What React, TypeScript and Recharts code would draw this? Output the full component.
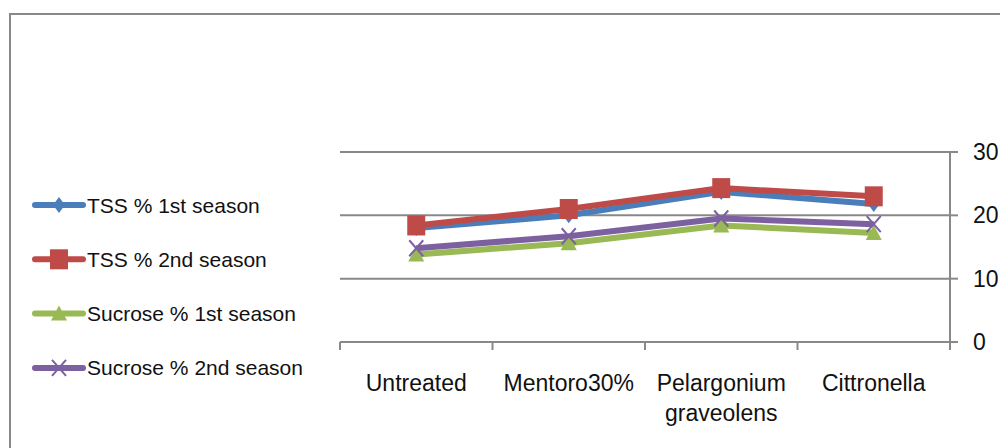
import { LineChart, Line, XAxis, YAxis, CartesianGrid, Legend } from "recharts";

const categories = ["Untreated", "Mentoro30%", "Pelargonium graveolens", "Cittronella"];
const tss1 = [18.0, 20.0, 23.7, 21.8];
const tss2 = [18.4, 21.0, 24.3, 23.0];
const sucrose1 = [13.8, 15.6, 18.4, 17.2];
const sucrose2 = [14.8, 16.7, 19.5, 18.6];
const yTicks = [0, 10, 20, 30];

const series = [
  { key: "tss1", name: "TSS % 1st season", color: "#4a7ebb", marker: "diamond" },
  { key: "tss2", name: "TSS % 2nd season", color: "#be4b48", marker: "square" },
  { key: "suc1", name: "Sucrose % 1st season", color: "#98b954", marker: "triangle" },
  { key: "suc2", name: "Sucrose % 2nd season", color: "#7d60a0", marker: "x" },
];

const data = categories.map((name, i) => ({
  name,
  tss1: tss1[i],
  tss2: tss2[i],
  suc1: sucrose1[i],
  suc2: sucrose2[i],
}));

const FONT = "'Liberation Sans Narrow', 'Liberation Sans', Arial, sans-serif";
const GRID = "#898989";

function Marker({ type, cx, cy, color }: any) {
  if (cx == null || cy == null) return null;
  if (type === "diamond") {
    return <path d={`M${cx},${cy - 8} L${cx + 6},${cy} L${cx},${cy + 8} L${cx - 6},${cy} Z`} fill={color} />;
  }
  if (type === "square") {
    return <rect x={cx - 9} y={cy - 10} width={18} height={20} fill={color} />;
  }
  if (type === "triangle") {
    return <path d={`M${cx},${cy - 8} L${cx + 8},${cy + 7} L${cx - 8},${cy + 7} Z`} fill={color} />;
  }
  return (
    <path
      d={`M${cx - 7},${cy - 8} L${cx + 7},${cy + 8} M${cx + 7},${cy - 8} L${cx - 7},${cy + 8}`}
      stroke={color}
      strokeWidth={2}
    />
  );
}

const CategoryTick = (props: any) => {
  const { x, y, payload, index, visibleTicksCount, width } = props;
  const count = visibleTicksCount || categories.length;
  const half = width ? width / count / 2 : 76.25;
  const words = String(payload.value).split(" ");
  return (
    <g>
      <line x1={x - half} x2={x - half} y1={y - 8} y2={y} stroke={GRID} strokeWidth={2} />
      {index === count - 1 && (
        <line x1={x + half} x2={x + half} y1={y - 8} y2={y} stroke={GRID} strokeWidth={2} />
      )}
      {words.map((w, i) => (
        <text
          key={i}
          x={x}
          y={y + 33 + i * 30}
          textAnchor="middle"
          dominantBaseline="central"
          fontFamily={FONT}
          fontSize={23}
          fill="#111"
        >
          {w}
        </text>
      ))}
    </g>
  );
};

const renderLegend = () => (
  <svg width={320} height={230} style={{ overflow: "visible" }}>
    {series.map((s, i) => {
      const cy = 15 + i * 54.3;
      return (
        <g key={s.key}>
          <line x1={35} x2={83} y1={cy} y2={cy} stroke={s.color} strokeWidth={6} strokeLinecap="round" />
          <Marker type={s.marker} cx={59} cy={cy} color={s.color} />
          <text x={87} y={cy} dominantBaseline="central" fontFamily={FONT} fontSize={21} fill="#111">
            {s.name}
          </text>
        </g>
      );
    })}
  </svg>
);

export default function App() {
  return (
    <div style={{ position: "absolute", left: 0, top: 0, width: 1000, height: 448, background: "#fff", overflow: "hidden" }}>
      <div
        style={{
          position: "absolute",
          left: 9,
          top: 13,
          width: 1100,
          height: 600,
          borderLeft: `2px solid ${GRID}`,
          borderTop: `2px solid ${GRID}`,
        }}
      />
      <LineChart
        width={1000}
        height={448}
        data={data}
        margin={{ top: 152, right: 0, bottom: 46, left: 40 }}
        style={{ position: "absolute", left: 0, top: 0 }}
      >
        <CartesianGrid vertical={false} stroke={GRID} strokeWidth={2} />
        <XAxis
          dataKey="name"
          scale="band"
          height={60}
          interval={0}
          tickLine={false}
          tickSize={8}
          tickMargin={0}
          axisLine={{ stroke: GRID, strokeWidth: 2 }}
          tick={<CategoryTick />}
        />
        <YAxis
          orientation="right"
          width={50}
          domain={[0, 30]}
          ticks={yTicks}
          interval={0}
          tickSize={8}
          tickMargin={15}
          axisLine={{ stroke: GRID, strokeWidth: 2 }}
          tickLine={{ stroke: GRID, strokeWidth: 2 }}
          tick={{ fontFamily: FONT, fontSize: 23, fill: "#111", textAnchor: "start" }}
        />
        <Legend
          layout="vertical"
          align="left"
          verticalAlign="top"
          width={300}
          content={renderLegend}
          wrapperStyle={{ left: 0, top: 190, overflow: "visible" }}
        />
        {series.map((s) => (
          <Line
            key={s.key}
            dataKey={s.key}
            name={s.name}
            stroke={s.color}
            strokeWidth={6}
            isAnimationActive={false}
            dot={(p: any) => <Marker key={`${s.key}-${p.index}`} type={s.marker} cx={p.cx} cy={p.cy} color={s.color} />}
            activeDot={false}
          />
        ))}
      </LineChart>
    </div>
  );
}
